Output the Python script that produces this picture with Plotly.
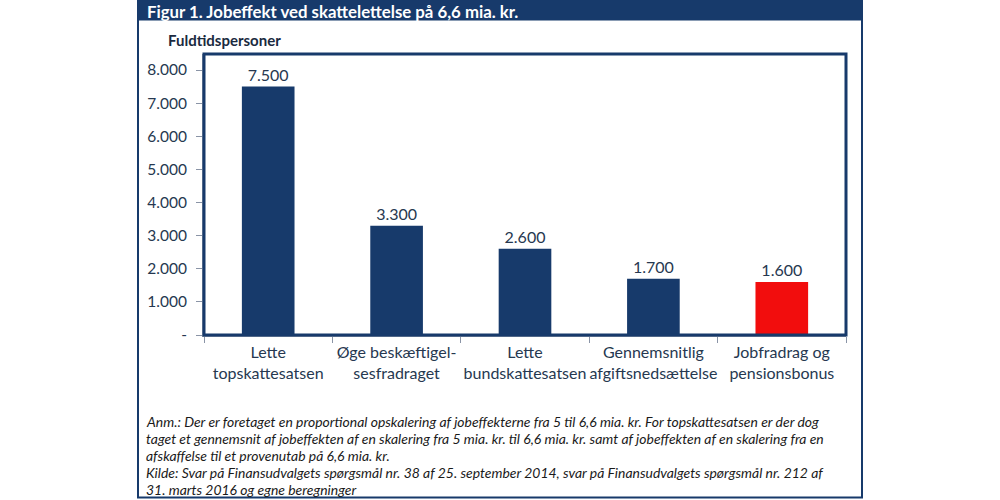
import plotly.graph_objects as go

categories = ["Lette<br>topskattesatsen", "Øge beskæftigel-<br>sesfradraget", "Lette<br>bundskattesatsen",
              "Gennemsnitlig<br>afgiftsnedsættelse", "Jobfradrag og<br>pensionsbonus"]
values = [7500, 3300, 2600, 1700, 1600]
bar_colors = ["#173a6b", "#173a6b", "#173a6b", "#173a6b", "#f20d0d"]
y_ticks = [0, 1000, 2000, 3000, 4000, 5000, 6000, 7000, 8000]
y_ticktext = ["-", "1.000", "2.000", "3.000", "4.000", "5.000", "6.000", "7.000", "8.000"]

title = "Figur 1. Jobeffekt ved skattelettelse på 6,6 mia. kr."
y_title = "Fuldtidspersoner"
note_lines = [
    "Anm.: Der er foretaget en proportional opskalering af jobeffekterne fra 5 til 6,6 mia. kr. For topskattesatsen er der dog",
    "taget et gennemsnit af jobeffekten af en skalering fra 5 mia. kr. til 6,6 mia. kr. samt af jobeffekten af en skalering fra en",
    "afskaffelse til et provenutab på 6,6 mia. kr.",
    "Kilde: Svar på Finansudvalgets spørgsmål nr. 38 af 25. september 2014, svar på Finansudvalgets spørgsmål nr. 212 af",
    "31. marts 2016 og egne beregninger",
]

navy = "#173a6b"
text_col = "#263850"

W, H = 1000, 500

def px(x):
    return x / W

def py(y):
    return 1 - y / H

fig = go.Figure()
fig.add_trace(go.Bar(
    x=categories, y=values,
    marker=dict(color=bar_colors, line=dict(width=0)),
    width=0.41,
    text=[f"{v:,}".replace(",", ".") for v in values],
    textposition="outside",
    textfont=dict(family="Lato", size=16, color=text_col),
    cliponaxis=False,
    showlegend=False,
))

shapes = [
    # outer frame
    dict(type="rect", xref="paper", yref="paper", x0=px(138), x1=px(862), y0=py(497.5), y1=py(1),
         line=dict(color=navy, width=2), fillcolor="rgba(0,0,0,0)", layer="above"),
    # header bar
    dict(type="rect", xref="paper", yref="paper", x0=px(137), x1=px(863), y0=py(20.5), y1=py(0),
         line=dict(width=0), fillcolor=navy, layer="above"),
    # plot frame
    dict(type="rect", xref="paper", yref="paper", x0=px(204), x1=px(846), y0=py(335), y1=py(54),
         line=dict(color=navy, width=3), fillcolor="rgba(0,0,0,0)", layer="above"),
]

annotations = [
    dict(text="<b>" + title + "</b>", xref="paper", yref="paper", x=px(146), y=py(11),
         xanchor="left", yanchor="middle", showarrow=False, borderpad=0,
         font=dict(family="Lato", size=16.8, color="white")),
    dict(text="<b>" + y_title + "</b>", xref="paper", yref="paper", x=px(167), y=py(40),
         xanchor="left", yanchor="middle", showarrow=False, borderpad=0,
         font=dict(family="Lato", size=15, color="#1a2a40")),
]
# footnote, one annotation per line
for i, line in enumerate(note_lines):
    annotations.append(dict(text="<i>" + line + "</i>", xref="paper", yref="paper", x=px(145), y=py(421.5 + 17.1 * i),
                            xanchor="left", yanchor="middle", align="left", showarrow=False, borderpad=0,
                            font=dict(family="Lato", size=13.95, color="#1a1a1a")))

fig.update_layout(
    width=W, height=H,
    margin=dict(l=0, r=0, t=0, b=0, autoexpand=False),
    paper_bgcolor="white", plot_bgcolor="white",
    bargap=0.59,
    shapes=shapes,
    annotations=annotations,
    xaxis=dict(domain=[px(204), px(846)], tickson="boundaries", ticks="outside", ticklen=6,
               tickcolor="#8a94a6", showline=True, linecolor="#8a94a6", linewidth=2, tickangle=0,
               ticklabelstandoff=2, automargin=False,
               tickfont=dict(family="Lato", size=16, color=text_col), showgrid=False),
    yaxis=dict(domain=[1 - 335 / H, 1 - 54 / H], range=[0, 8483], tickvals=y_ticks, ticktext=y_ticktext,
               ticks="outside", ticklen=6, tickcolor="#8a94a6", showline=True, linecolor="#8a94a6",
               linewidth=2, showgrid=False, zeroline=False, ticklabelstandoff=6, automargin=False,
               tickfont=dict(family="Lato", size=15.5, color=text_col)),
)

# page without margins/scrollbars so the 1000x500 figure fills the window exactly
page_fix = ("document.documentElement.style.overflow='hidden';"
            "document.body.style.margin='0';document.body.style.overflow='hidden';")
fig.write_html("out.html", config={"displayModeBar": False}, post_script=page_fix)
